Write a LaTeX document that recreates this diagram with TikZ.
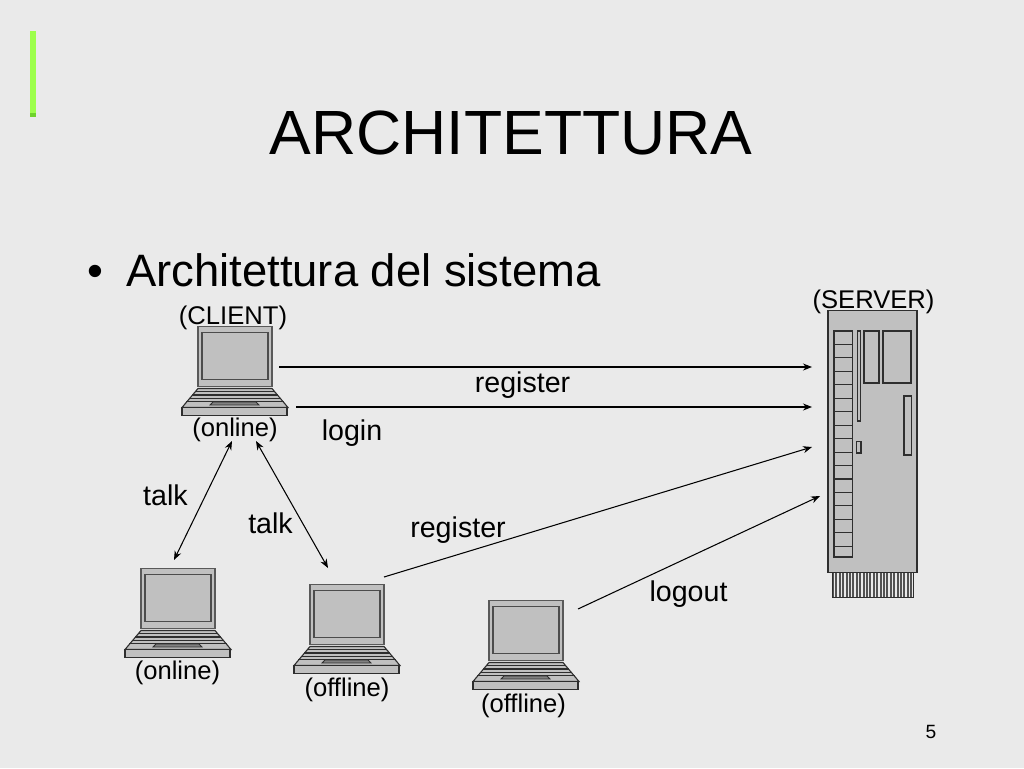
\documentclass[tikz,border=0pt]{standalone}
\usepackage{fontspec}
\setmainfont{Liberation Sans}
\usetikzlibrary{arrows.meta}
\definecolor{bg}{HTML}{EAEAEA}
\definecolor{bodygray}{HTML}{C0C0C0}
\definecolor{edgegray}{HTML}{2E2E2E}
\tikzset{
  x=1pt,y=-1pt,
  lbl/.style={inner sep=0pt,font=\fontsize{25.6}{28}\selectfont,text=black},
  lblbig/.style={inner sep=0pt,font=\fontsize{28.6}{31}\selectfont,text=black},
  conn/.style={draw=black,line width=1.05pt,-{Stealth[length=9pt,width=7pt]}},
  conntwo/.style={draw=black,line width=1.05pt,{Stealth[length=9pt,width=7pt]}-{Stealth[length=9pt,width=7pt]}},
  hw/.style={draw=edgegray,fill=bodygray,line width=1.1pt},
  hwline/.style={draw=edgegray,line width=1.1pt},
  laptop/.pic={
    \draw[hw,line width=1.5pt,draw=gray!70!black] (0,0) rectangle (74,60);
    \draw[hw,line width=1.5pt,draw=gray!60!black] (4,6) rectangle (70,53);
    \draw[hw] (0,62) -- (74,62) -- (90,81) -- (-16,81) -- cycle;
    \draw[hwline] (-3,65) -- (77,65);
    \draw[hwline] (-6,68.5) -- (80,68.5);
    \draw[hwline] (-9,72) -- (83,72);
    \draw[hwline] (-12,75) -- (86,75);
    \draw[draw=edgegray,fill=gray,line width=.8pt] (15,75.5) -- (58,75.5) -- (61,78.5) -- (12,78.5) -- cycle;
    \draw[hw] (-16,81) rectangle (89,89);
  }
}
\begin{document}
\begin{tikzpicture}
\useasboundingbox (0,0) rectangle (1024,768);
\fill[bg] (0,0) rectangle (1024,768);
% accent bar
\fill[green!55!yellow!70!white] (29.5,31) rectangle (35.5,117);
\fill[green!60!yellow!65!gray] (29.5,113) rectangle (35.5,117);

\node[inner sep=0pt,font=\fontsize{62.5}{70}\selectfont] (title) at (511,133) {ARCHITETTURA};
\node[inner sep=0pt,font=\fontsize{45.4}{50}\selectfont,anchor=base west] (bullet) at (87,286) {•};
\node[inner sep=0pt,font=\fontsize{45.4}{50}\selectfont,anchor=base west] (head) at (126,286) {Architettura del sistema};

% laptops
\pic at (198,326.5) {laptop};
\pic at (141,568.5) {laptop};
\pic at (310,584.5) {laptop};
\pic at (489,600.5) {laptop};

% server
\foreach \i in {0,...,23} {
  \fill[gray!65!black] (832+\i*3.4,572) rectangle +(1.9,25);
}
\draw[draw=edgegray,line width=.8pt] (832,572) rectangle (913,597);
\draw[hw] (828,310.5) rectangle (917,572.5);
\draw[hw] (834,331) rectangle (852.5,557);
\foreach \i in {1,...,16} { \draw[hwline] (834,331+\i*13.45) -- (852.5,331+\i*13.45); }
\draw[hw] (857.5,331) rectangle (860.5,421);
\draw[hw] (864,331) rectangle (879,383);
\draw[hw] (883,331) rectangle (911,383);
\draw[hw] (904,396) rectangle (911.5,455);
\draw[hw] (856.5,441.5) rectangle (861,453);

% labels
\node[lbl] (client) at (233,318) {(CLIENT)};
\node[lbl] (server) at (873.5,302) {(SERVER)};
\node[lbl] (on1) at (235,430) {(online)};
\node[lbl] (on2) at (177.5,673) {(online)};
\node[lbl] (off1) at (347,690) {(offline)};
\node[lbl] (off2) at (523.5,706) {(offline)};
\node[lblbig] (reg1) at (522.5,385) {register};
\node[lblbig] (login) at (352,433) {login};
\node[lblbig] (talk1) at (165.5,495) {talk};
\node[lblbig] (talk2) at (270.5,523) {talk};
\node[lblbig] (reg2) at (458,530) {register};
\node[lblbig] (logout) at (688.5,594) {logout};
\node[inner sep=0pt,font=\fontsize{19.2}{22}\selectfont] (page) at (931,732) {5};

% connector ends
\coordinate (a1) at (279,367);   \coordinate (b1) at (812,367);
\coordinate (a2) at (296,407);   \coordinate (b2) at (812,407);
\coordinate (a3) at (232,441);   \coordinate (b3) at (174,560);
\coordinate (a4) at (256,441);   \coordinate (b4) at (328,568);
\coordinate (a5) at (384,577);   \coordinate (b5) at (812,447);
\coordinate (a6) at (578,609);   \coordinate (b6) at (820,496);
\draw[conn] (a1) -- (b1);
\draw[conn] (a2) -- (b2);
\draw[conntwo] (a3) -- (b3);
\draw[conntwo] (a4) -- (b4);
\draw[conn] (a5) -- (b5);
\draw[conn] (a6) -- (b6);
\end{tikzpicture}
\end{document}
